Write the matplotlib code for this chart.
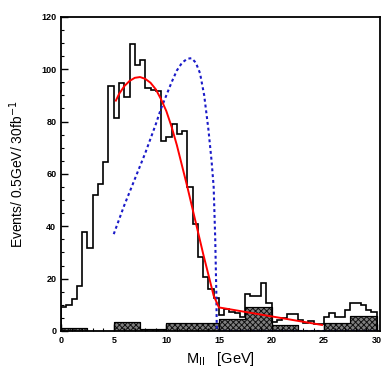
import numpy as np
import matplotlib
matplotlib.use("Agg")
import matplotlib.pyplot as plt
from matplotlib.ticker import MultipleLocator

plt.rcParams['font.family'] = ['Liberation Sans', 'DejaVu Sans']
plt.rcParams['hatch.linewidth'] = 0.7

# main histogram, 0.5 GeV bins from 0 to 30
edges = np.arange(0, 30.01, 0.5)
counts = [9.3, 10, 12.2, 17, 38, 31.6, 52, 56, 64.7, 93.6,
          81.5, 94.6, 89.5, 109.5, 101.6, 103.5, 92.7, 92, 91.5, 72.6,
          74.2, 79, 75.2, 76.2, 55, 41, 28.4, 20.8, 15.9, 12.5,
          6.1, 8.3, 7.4, 7, 5.2, 14.1, 13.4, 13.4, 18.2, 10.6,
          3.6, 4.2, 4.8, 6.5, 6.5, 4.2, 2.9, 4, 2.5, 2.5,
          5.5, 7, 5.5, 5.5, 8, 10.8, 10.8, 9.9, 8, 7.4]

# background (hatched), 2.5 GeV blocks
bg_edges = np.arange(0, 30.01, 2.5)
bg_counts = [1.0, 0, 3.6, 0.6, 3.2, 3.2, 4.5, 9.3, 2.3, 0, 3.0, 5.7]

# red fit curve
fit_x = [5.2, 5.5, 6, 6.5, 7, 7.5, 8, 8.5, 9, 9.5, 10, 10.5, 11, 11.5,
         12, 12.5, 13, 13.5, 14, 14.5, 15.0, 24.8]
fit_y = [88, 90.5, 93.5, 95.5, 96.7, 97, 96.3, 94.8, 92.3, 88.5, 84, 78,
         71, 63, 55, 46.5, 38, 29.5, 21.5, 13.5, 9.0, 2.3]

# blue dashed theory curve
th_x = [5.0, 5.5, 6, 6.5, 7, 7.5, 8, 8.5, 9, 9.5, 10, 10.5, 11, 11.5, 12,
        12.4, 12.8, 13.2, 13.6, 14, 14.3, 14.5, 14.65, 14.75, 14.8, 30]
th_y = [37, 42.5, 48, 53, 58, 63, 68, 73.5, 79, 85, 90, 95, 99.5, 102.5,
        104, 104.2, 102.5, 98.5, 90, 77, 65, 55, 35, 15, 0, 0]

fig = plt.figure(figsize=(3.92, 3.74), dpi=100)
ax = fig.add_axes([0.156, 0.115, 0.813, 0.84])

ax.stairs(bg_counts, bg_edges, fill=True, facecolor='#808080',
          edgecolor='#111111', hatch='xxxxxx', linewidth=0.8)
ax.stairs(bg_counts, bg_edges, color='black', linewidth=0.8)
ax.stairs(counts, edges, color='black', linewidth=1.2)
ax.plot(th_x, th_y, color='#1a1ac8', linestyle=(0, (1.4, 1.4)), linewidth=1.5)
ax.plot(fit_x, fit_y, color='red', linewidth=1.4)

ax.set_xlim(0, 30.3)
ax.set_ylim(0, 120)
ax.xaxis.set_major_locator(MultipleLocator(5))
ax.xaxis.set_minor_locator(MultipleLocator(1))
ax.yaxis.set_major_locator(MultipleLocator(20))
ax.yaxis.set_minor_locator(MultipleLocator(5))
ax.tick_params(which='both', direction='in', top=False, right=False,
               labelsize=6.5)
ax.tick_params(which='major', length=5, width=1)
ax.tick_params(which='minor', length=2.5, width=0.8)
for lab in ax.get_xticklabels() + ax.get_yticklabels():
    lab.set_fontweight('bold')
for sp in ax.spines.values():
    sp.set_linewidth(1.3)

ax.set_xlabel(r'M$_{\rm ll}$   [GeV]', fontsize=10.5)
ax.set_ylabel(r'Events/ 0.5GeV/ 30fb$^{-1}$', fontsize=10)
ax.yaxis.set_label_coords(-0.11, 0.5)

fig.savefig('out.png', dpi=100)
